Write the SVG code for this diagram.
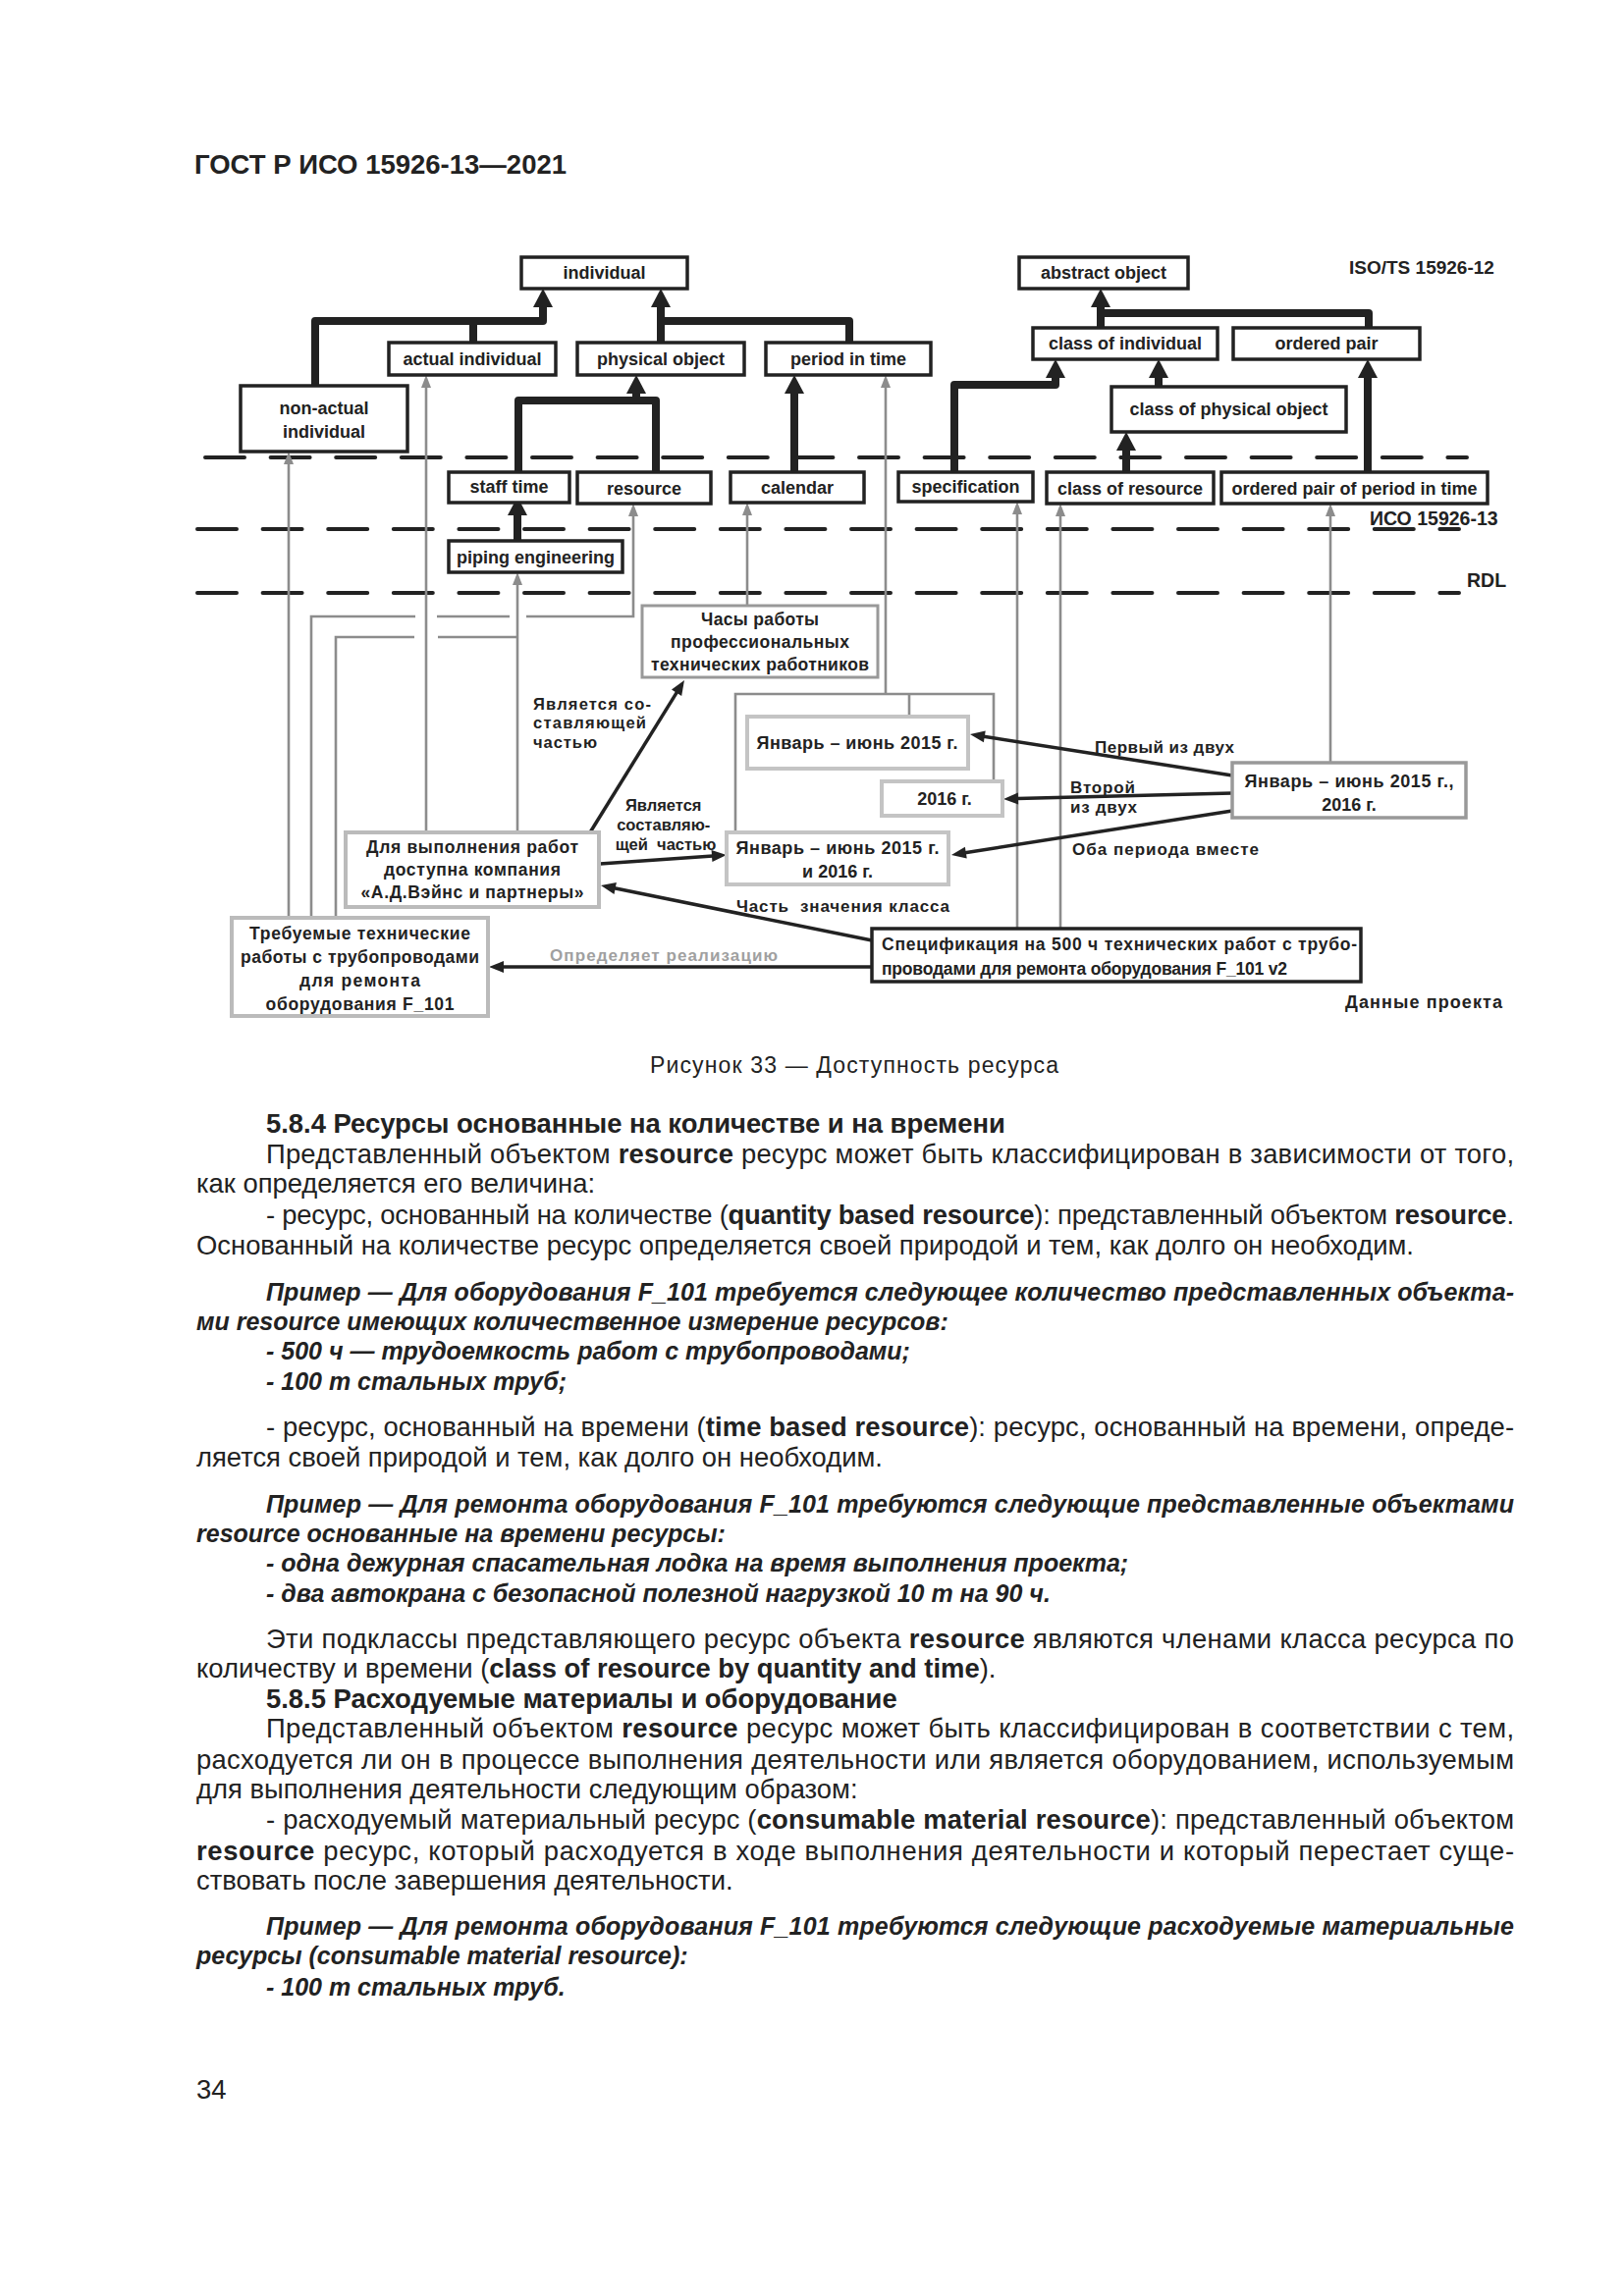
<svg xmlns="http://www.w3.org/2000/svg" width="1654" height="2339" viewBox="0 0 1654 2339">
<defs>
<style>
text{font-family:"Liberation Sans",Arial,sans-serif;fill:#222}
.hd{font-size:27px;font-weight:bold}
.lb{font-size:18px;font-weight:bold;text-anchor:middle}
.lc{font-size:17.5px;font-weight:bold;text-anchor:middle}
.lt{font-size:17px;font-weight:bold}
.bx{fill:#fff;stroke:#222;stroke-width:3.5}
.gb{fill:#fff;stroke:#999;stroke-width:3}
.lg{fill:#fff;stroke:#c4c4c4;stroke-width:4}
.th{fill:none;stroke:#222;stroke-width:8;stroke-linejoin:round}
.gl{fill:none;stroke:#8c8c8c;stroke-width:2.6}
.bl{fill:none;stroke:#222;stroke-width:3.5}
.ds{fill:none;stroke:#222;stroke-width:4;stroke-dasharray:40 26.6;stroke-linecap:round}
.bt{font-size:27.4px}
.b{font-weight:bold}
.bi{font-weight:bold;font-style:italic;font-size:25px}
</style>
<marker id="aT" markerUnits="userSpaceOnUse" orient="auto" overflow="visible" refX="0" refY="0" markerWidth="1" markerHeight="1"><path d="M-1,-10 L18,0 L-1,10 Z" fill="#222"/></marker>
<marker id="aB" markerUnits="userSpaceOnUse" orient="auto" overflow="visible" refX="0" refY="0" markerWidth="1" markerHeight="1"><path d="M-1,-6 L14,0 L-1,6 Z" fill="#222"/></marker>
<marker id="aG" markerUnits="userSpaceOnUse" orient="auto" overflow="visible" refX="0" refY="0" markerWidth="1" markerHeight="1"><path d="M-1,-5 L12,0 L-1,5 Z" fill="#8c8c8c"/></marker>
</defs>
<rect width="1654" height="2339" fill="#fff"/>
<text class="hd" x="198" y="177" textLength="379" lengthAdjust="spacingAndGlyphs">ГОСТ Р ИСО 15926-13—2021</text>

<g id="levels">
<path class="ds" d="M209,466 H1494"/>
<path class="ds" d="M201,539 H1486"/>
<path class="ds" d="M201,604 H1486"/>
<text x="1374" y="279" style="font-size:19px;font-weight:bold">ISO/TS 15926-12</text>
<text x="1395" y="535" style="font-size:19.5px;font-weight:bold">ИСО 15926-13</text>
<text x="1494" y="598" style="font-size:19.5px;font-weight:bold">RDL</text>
<text x="1370" y="1027" style="font-size:18px;font-weight:bold" textLength="160">Данные проекта</text>
</g>

<g id="connectors">
<path class="th" d="M321,393 V327 H553 V312" marker-end="url(#aT)"/>
<path class="th" d="M482,349 V327"/>
<path class="th" d="M673,349 V312" marker-end="url(#aT)"/>
<path class="th" d="M865,349 V327 H673"/>
<path class="th" d="M528,481 V408 H668 V481"/>
<path class="th" d="M648,408 V400" marker-end="url(#aT)"/>
<path class="th" d="M527,551 V524" marker-end="url(#aT)"/>
<path class="th" d="M809,481 V400" marker-end="url(#aT)"/>
<path class="th" d="M972,481 V392 H1075 V384" marker-end="url(#aT)"/>
<path class="th" d="M1180,394 V384" marker-end="url(#aT)"/>
<path class="th" d="M1147,481 V458" marker-end="url(#aT)"/>
<path class="th" d="M1121,334 V312" marker-end="url(#aT)"/>
<path class="th" d="M1121,319 H1394 V334"/>
<path class="th" d="M1393,481 V384" marker-end="url(#aT)"/>

<path class="gl" d="M294,935 V472" marker-end="url(#aG)"/>
<path class="gl" d="M317,935 V628 H423"/>
<path class="gl" d="M445,628 H519"/>
<path class="gl" d="M536,628 H645 V525" marker-end="url(#aG)"/>
<path class="gl" d="M342,935 V649 H422"/>
<path class="gl" d="M446,649 H527"/>
<path class="gl" d="M434,848 V394" marker-end="url(#aG)"/>
<path class="gl" d="M527,848 V595" marker-end="url(#aG)"/>
<path class="gl" d="M761,617 V524" marker-end="url(#aG)"/>
<path class="gl" d="M902,707 V394" marker-end="url(#aG)"/>
<path class="gl" d="M749,848 V707 H1012 V796"/>
<path class="gl" d="M926,707 V730"/>
<path class="gl" d="M1036,946 V523" marker-end="url(#aG)"/>
<path class="gl" d="M1080,946 V525" marker-end="url(#aG)"/>
<path class="gl" d="M1355,777 V525" marker-end="url(#aG)"/>

<path class="bl" d="M601,848 L689.6,704.9" marker-end="url(#aB)"/>
<path class="bl" d="M611,880 L726,872" marker-end="url(#aB)"/>
<path class="bl" d="M888,958 L625.7,904.8" marker-end="url(#aB)"/>
<path class="bl" d="M888,985 L512,985" marker-end="url(#aB)"/>
<path class="bl" d="M1255,790 L1001.8,750.2" marker-end="url(#aB)"/>
<path class="bl" d="M1255,808 L1036,813.6" marker-end="url(#aB)"/>
<path class="bl" d="M1255,826 L982.8,868.8" marker-end="url(#aB)"/>

<text class="lt" style="font-size:16.5px">
<tspan x="543" y="723" textLength="120">Является со-</tspan>
<tspan x="543" y="742" textLength="115">ставляющей</tspan>
<tspan x="543" y="762" textLength="65">частью</tspan>
</text>
<text class="lc" style="font-size:16.5px">
<tspan x="678" y="826">Является</tspan>
<tspan x="678" y="846">составляю-</tspan>
<tspan x="678" y="866" xml:space="preserve">щей  частью</tspan>
</text>
<text class="lt" x="1115" y="767" textLength="142">Первый из двух</text>
<text class="lt" x="1090" y="808" textLength="66">Второй</text>
<text class="lt" x="1090" y="828" textLength="68">из двух</text>
<text class="lt" x="1092" y="871" textLength="190">Оба периода вместе</text>
<text class="lt" x="750" y="929" textLength="217" xml:space="preserve">Часть  значения класса</text>
<text class="lt" x="560" y="979" textLength="232" style="fill:#a0a0a0">Определяет реализацию</text>
</g>

<g id="n-individual"><rect class="bx" x="531" y="262" width="169" height="32"/><text class="lb" x="615.5" y="284">individual</text></g>
<g id="n-actual-individual"><rect class="bx" x="396" y="349" width="170" height="33"/><text class="lb" x="481" y="372">actual individual</text></g>
<g id="n-physical-object"><rect class="bx" x="588" y="349" width="170" height="33"/><text class="lb" x="673" y="372">physical object</text></g>
<g id="n-period-in-time"><rect class="bx" x="780" y="349" width="168" height="33"/><text class="lb" x="864" y="372">period in time</text></g>
<g id="n-non-actual-individual"><rect class="bx" x="245" y="393" width="170" height="67"/><text class="lb" x="330" y="422">non-actual</text><text class="lb" x="330" y="446">individual</text></g>
<g id="n-abstract-object"><rect class="bx" x="1038" y="262" width="172" height="32"/><text class="lb" x="1124" y="284">abstract object</text></g>
<g id="n-class-of-individual"><rect class="bx" x="1052" y="334" width="188" height="32"/><text class="lb" x="1146" y="356">class of individual</text></g>
<g id="n-ordered-pair"><rect class="bx" x="1256" y="334" width="190" height="32"/><text class="lb" x="1351" y="356">ordered pair</text></g>
<g id="n-class-of-physical-object"><rect class="bx" x="1132" y="394" width="239" height="46"/><text class="lb" x="1251.5" y="423">class of physical object</text></g>
<g id="n-staff-time"><rect class="bx" x="457" y="481" width="123" height="31"/><text class="lb" x="518.5" y="502">staff time</text></g>
<g id="n-resource"><rect class="bx" x="588" y="481" width="136" height="32"/><text class="lb" x="656" y="504">resource</text></g>
<g id="n-calendar"><rect class="bx" x="744" y="481" width="136" height="31"/><text class="lb" x="812" y="503">calendar</text></g>
<g id="n-specification"><rect class="bx" x="915" y="481" width="137" height="30"/><text class="lb" x="983.5" y="502">specification</text></g>
<g id="n-class-of-resource"><rect class="bx" x="1066" y="481" width="170" height="32"/><text class="lb" x="1151" y="504">class of resource</text></g>
<g id="n-ordered-pair-of-period"><rect class="bx" x="1244" y="481" width="271" height="32"/><text class="lb" x="1379.5" y="504">ordered pair of period in time</text></g>
<g id="n-piping-engineering"><rect class="bx" x="457" y="551" width="177" height="32"/><text class="lb" x="545.5" y="574">piping engineering</text></g>

<g id="n-chasy"><rect class="gb" x="654" y="617" width="240" height="73"/>
<text class="lc"><tspan x="774" y="637" textLength="120">Часы работы</tspan><tspan x="774" y="660" textLength="182">профессиональных</tspan><tspan x="774" y="683" textLength="222">технических работников</tspan></text></g>
<g id="n-jan1"><rect class="lg" x="761" y="730" width="225" height="53"/><text class="lc" x="873" y="763" style="font-size:18px" textLength="205">Январь – июнь 2015 г.</text></g>
<g id="n-2016"><rect class="lg" x="898" y="796" width="123" height="35"/><text class="lc" x="962" y="820" style="font-size:18px">2016 г.</text></g>
<g id="n-jan-right"><rect class="gb" x="1255" y="777" width="238" height="56" style="stroke-width:3.5"/>
<text class="lc" style="font-size:18px"><tspan x="1374" y="802" textLength="213">Январь – июнь 2015 г.,</tspan><tspan x="1374" y="826">2016 г.</tspan></text></g>
<g id="n-jan-both"><rect class="lg" x="740" y="848" width="226" height="53"/>
<text class="lc" style="font-size:18px"><tspan x="853" y="870" textLength="207">Январь – июнь 2015 г.</tspan><tspan x="853" y="894">и 2016 г.</tspan></text></g>
<g id="n-company"><rect class="lg" x="352" y="848" width="258" height="76" style="stroke:#bbb"/>
<text class="lc"><tspan x="481" y="869" textLength="216">Для выполнения работ</tspan><tspan x="481" y="892" textLength="180">доступна компания</tspan><tspan x="481" y="915" textLength="227">«А.Д.Вэйнс и партнеры»</tspan></text></g>
<g id="n-required"><rect class="lg" x="236" y="935" width="261" height="100" style="stroke:#bbb"/>
<text class="lc"><tspan x="366.5" y="957" textLength="225">Требуемые технические</tspan><tspan x="366.5" y="981" textLength="243">работы с трубопроводами</tspan><tspan x="366.5" y="1005" textLength="123">для ремонта</tspan><tspan x="366.5" y="1029" textLength="192">оборудования F_101</tspan></text></g>
<g id="n-spec"><rect class="bx" x="888" y="946" width="498" height="54"/>
<text class="lt" style="font-size:17.5px"><tspan x="898" y="968" textLength="484">Спецификация на 500 ч технических работ с трубо-</tspan><tspan x="898" y="993" textLength="413">проводами для ремонта оборудования F_101 v2</tspan></text></g>

<text x="662" y="1093" style="font-size:23px" textLength="416">Рисунок 33 — Доступность ресурса</text>

<g id="body">
<text class="bt b" x="271" y="1154">5.8.4 Ресурсы основанные на количестве и на времени</text>
<text class="bt" x="271" y="1185" textLength="1271">Представленный объектом <tspan class="b">resource</tspan> ресурс может быть классифицирован в зависимости от того,</text>
<text class="bt" x="200" y="1215">как определяется его величина:</text>
<text class="bt" x="271" y="1247" textLength="1271">- ресурс, основанный на количестве (<tspan class="b">quantity based resource</tspan>): представленный объектом <tspan class="b">resource</tspan>.</text>
<text class="bt" x="200" y="1278">Основанный на количестве ресурс определяется своей природой и тем, как долго он необходим.</text>
<text class="bt bi" x="271" y="1325" textLength="1271">Пример — Для оборудования F_101 требуется следующее количество представленных объекта-</text>
<text class="bt bi" x="200" y="1355">ми resource имеющих количественное измерение ресурсов:</text>
<text class="bt bi" x="271" y="1385">- 500 ч — трудоемкость работ с трубопроводами;</text>
<text class="bt bi" x="271" y="1416">- 100 т стальных труб;</text>
<text class="bt" x="271" y="1463" textLength="1271">- ресурс, основанный на времени (<tspan class="b">time based resource</tspan>): ресурс, основанный на времени, опреде-</text>
<text class="bt" x="200" y="1494">ляется своей природой и тем, как долго он необходим.</text>
<text class="bt bi" x="271" y="1541" textLength="1271">Пример — Для ремонта оборудования F_101 требуются следующие представленные объектами</text>
<text class="bt bi" x="200" y="1571">resource основанные на времени ресурсы:</text>
<text class="bt bi" x="271" y="1601">- одна дежурная спасательная лодка на время выполнения проекта;</text>
<text class="bt bi" x="271" y="1632">- два автокрана с безопасной полезной нагрузкой 10 т на 90 ч.</text>
<text class="bt" x="271" y="1679" textLength="1271">Эти подклассы представляющего ресурс объекта <tspan class="b">resource</tspan> являются членами класса ресурса по</text>
<text class="bt" x="200" y="1709">количеству и времени (<tspan class="b">class of resource by quantity and time</tspan>).</text>
<text class="bt b" x="271" y="1740">5.8.5 Расходуемые материалы и оборудование</text>
<text class="bt" x="271" y="1770" textLength="1271">Представленный объектом <tspan class="b">resource</tspan> ресурс может быть классифицирован в соответствии с тем,</text>
<text class="bt" x="200" y="1802" textLength="1342">расходуется ли он в процессе выполнения деятельности или является оборудованием, используемым</text>
<text class="bt" x="200" y="1832">для выполнения деятельности следующим образом:</text>
<text class="bt" x="271" y="1863" textLength="1271">- расходуемый материальный ресурс (<tspan class="b">consumable material resource</tspan>): представленный объектом</text>
<text class="bt" x="200" y="1895" textLength="1342"><tspan class="b">resource</tspan> ресурс, который расходуется в ходе выполнения деятельности и который перестает суще-</text>
<text class="bt" x="200" y="1925">ствовать после завершения деятельности.</text>
<text class="bt bi" x="271" y="1971" textLength="1271">Пример — Для ремонта оборудования F_101 требуются следующие расходуемые материальные</text>
<text class="bt bi" x="200" y="2001">ресурсы (consumable material resource):</text>
<text class="bt bi" x="271" y="2033">- 100 т стальных труб.</text>
<text class="bt" x="200" y="2138">34</text>
</g>
</svg>
